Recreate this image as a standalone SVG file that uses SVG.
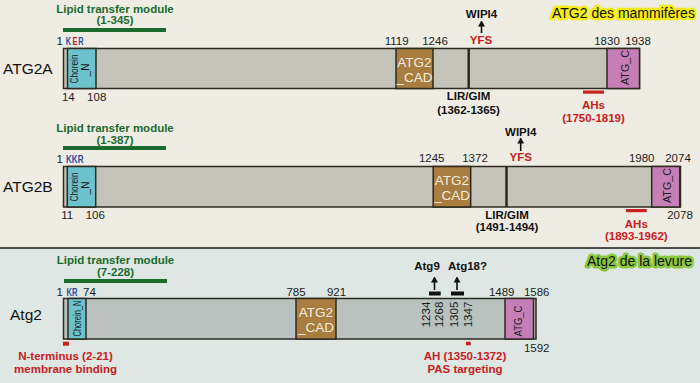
<svg xmlns="http://www.w3.org/2000/svg" width="700" height="383" viewBox="0 0 700 383">
<defs>
<marker id="ah" markerWidth="6" markerHeight="7" refX="5" refY="3.5" orient="auto" markerUnits="userSpaceOnUse" viewBox="0 0 6 7">
<path d="M0,0 L6,3.5 L0,7 Z" fill="#111"/>
</marker>
<style>
text{font-family:"Liberation Sans",Arial,sans-serif;}
.num{font-size:11.5px;fill:#1c1c1c;}
.b{font-weight:bold;}
.mid{text-anchor:middle;}
.green{fill:#1b6b2f;}
.red{fill:#c8201e;}
.blue{fill:#2b4ea2;}
.name{font-size:15.5px;fill:#111;}
.bar{stroke:#2e2a20;stroke-width:1.5;}
.barT{fill:#c3c3ba;}
.barB{fill:#b9c2bf;}
.chor{fill:#6dc3cb;stroke:#2e2a20;stroke-width:1.5;}
.cad{fill:#a97c3f;stroke:#2e2a20;stroke-width:1.5;}
.atgc{fill:#c67fb6;stroke:#2e2a20;stroke-width:1.5;}
.cadt{font-size:13.5px;fill:#f4ecdc;text-anchor:middle;}
.vt{font-size:10px;fill:#1c1c1c;text-anchor:middle;}
.lm{fill:#1b6b2f;}
.arr{stroke:#111;stroke-width:1.6;marker-end:url(#ah);}
.ttl{font-size:14px;fill:#111;stroke-linejoin:round;paint-order:stroke;}
.res{font-size:10.5px;font-weight:bold;}
</style>
</defs>
<rect x="0" y="0" width="700" height="248" fill="#efede3"/>
<rect x="0" y="248" width="700" height="135" fill="#dee7e3"/>
<line x1="0" y1="248" x2="700" y2="248" stroke="#1a1a1a" stroke-width="1.5"/>

<g id="title-mammals">
<text class="ttl" x="552" y="18" stroke="#f4ec1a" stroke-width="5">ATG2 des mammifères</text>
</g>
<g id="title-yeast">
<text class="ttl" x="587" y="266" stroke="#8cc63f" stroke-width="5">Atg2 de la levure</text>
</g>

<!-- ATG2A -->
<g id="ATG2A">
<text class="name" x="3" y="73.5">ATG2A</text>
<text class="b green mid" x="115" y="12.5" font-size="11.5">Lipid transfer module</text>
<text class="b green mid" x="115" y="23.5" font-size="11.5">(1-345)</text>
<rect class="lm" x="63" y="28" width="103" height="4"/>
<rect class="bar barT" x="63.5" y="48.5" width="576" height="40"/>
<rect class="chor" x="67.5" y="48.5" width="28.5" height="40"/>
<text class="vt" transform="translate(78.3,69) rotate(-90)" textLength="29" lengthAdjust="spacingAndGlyphs">Chorein</text>
<text class="vt" transform="translate(89,70) rotate(-90)">_N</text>
<rect class="cad" x="396" y="48.5" width="37" height="40"/>
<text class="cadt" x="414.5" y="66.5">ATG2</text>
<text class="cadt" x="414.5" y="81.5">_CAD</text>
<line x1="468.7" y1="48.5" x2="468.7" y2="88.5" stroke="#2e2a20" stroke-width="2.5"/>
<rect class="atgc" x="607" y="48.5" width="32.5" height="40"/>
<text class="vt" font-size="11" transform="translate(628.5,67.5) rotate(-90)" textLength="35" lengthAdjust="spacingAndGlyphs">ATG_C</text>
<text class="num" x="63" y="45" text-anchor="end">1</text>
<text class="res blue" x="65.8" y="45" textLength="5.3" lengthAdjust="spacingAndGlyphs">K</text>
<text class="res red" x="72.4" y="45" textLength="4.9" lengthAdjust="spacingAndGlyphs">E</text>
<text class="res blue" x="78.3" y="45" textLength="5.3" lengthAdjust="spacingAndGlyphs">R</text>
<text class="num mid" x="68.3" y="101">14</text>
<text class="num mid" x="96.7" y="101">108</text>
<text class="num mid" x="396.7" y="45">1119</text>
<text class="num mid" x="435" y="45">1246</text>
<text class="num mid" x="607" y="45">1830</text>
<text class="num mid" x="638" y="45">1938</text>
<text class="b red mid" x="481" y="43.5" font-size="11.5">YFS</text>
<text class="b mid" x="481.5" y="18.3" font-size="11.5" fill="#111">WIPI4</text>
<text class="b mid" x="468.5" y="100" font-size="11.5" fill="#111">LIR/GIM</text>
<text class="b mid" x="468.5" y="113.5" font-size="11.5" fill="#111">(1362-1365)</text>
<rect x="583" y="90.5" width="21" height="3.2" fill="#c8201e"/>
<text class="b red mid" x="593.5" y="109" font-size="11.5">AHs</text>
<text class="b red mid" x="593.5" y="121.5" font-size="11.5">(1750-1819)</text>
</g>

<!-- ATG2B -->
<g id="ATG2B">
<text class="name" x="3" y="191.5">ATG2B</text>
<text class="b green mid" x="115" y="131.5" font-size="11.5">Lipid transfer module</text>
<text class="b green mid" x="115" y="143.5" font-size="11.5">(1-387)</text>
<rect class="lm" x="63" y="146" width="103" height="4"/>
<rect class="bar barT" x="63.5" y="166.5" width="617" height="40.5"/>
<rect class="chor" x="67.3" y="166.5" width="28.4" height="40.5"/>
<text class="vt" transform="translate(77.5,187) rotate(-90)" textLength="29" lengthAdjust="spacingAndGlyphs">Chorein</text>
<text class="vt" transform="translate(88.5,188) rotate(-90)">_N</text>
<rect class="cad" x="433.2" y="166.5" width="37.5" height="40.5"/>
<text class="cadt" x="452" y="185">ATG2</text>
<text class="cadt" x="452" y="200">_CAD</text>
<line x1="506.5" y1="166.5" x2="506.5" y2="207" stroke="#2e2a20" stroke-width="2.5"/>
<rect class="atgc" x="651.7" y="166.5" width="28" height="40.5"/>
<text class="vt" font-size="11" transform="translate(670.5,185.5) rotate(-90)" textLength="35" lengthAdjust="spacingAndGlyphs">ATG_C</text>
<text class="num" x="63" y="162.5" text-anchor="end">1</text>
<text class="res blue" x="66" y="162.5" textLength="17.5" lengthAdjust="spacingAndGlyphs">KKR</text>
<text class="num mid" x="67.3" y="218.5">11</text>
<text class="num mid" x="95.3" y="218.5">106</text>
<text class="num mid" x="431.7" y="162">1245</text>
<text class="num mid" x="475" y="162">1372</text>
<text class="num mid" x="641.7" y="162">1980</text>
<text class="num mid" x="678" y="162">2074</text>
<text class="num mid" x="680" y="219">2078</text>
<text class="b red mid" x="520.7" y="160.5" font-size="11.5">YFS</text>
<text class="b mid" x="520.7" y="135.7" font-size="11.5" fill="#111">WIPI4</text>
<text class="b mid" x="507" y="219" font-size="11.5" fill="#111">LIR/GIM</text>
<text class="b mid" x="507" y="231" font-size="11.5" fill="#111">(1491-1494)</text>
<rect x="626" y="209" width="20.7" height="3.2" fill="#c8201e"/>
<text class="b red mid" x="636.3" y="227.5" font-size="11.5">AHs</text>
<text class="b red mid" x="636.3" y="239.5" font-size="11.5">(1893-1962)</text>
</g>

<!-- Atg2 yeast -->
<g id="Atg2">
<text class="name" x="10" y="320">Atg2</text>
<text class="b green mid" x="115.5" y="263.5" font-size="11.5">Lipid transfer module</text>
<text class="b green mid" x="115.5" y="275.5" font-size="11.5">(7-228)</text>
<rect class="lm" x="64" y="279" width="103" height="4"/>
<rect class="bar barB" x="63.5" y="298.5" width="472.5" height="40.5"/>
<rect class="chor" x="68" y="298.5" width="18" height="40.5"/>
<text class="vt" font-size="9.5" transform="translate(80.7,318.5) rotate(-90)" textLength="36" lengthAdjust="spacingAndGlyphs">Chorein_N</text>
<rect class="cad" x="296" y="298.5" width="40" height="40.5"/>
<text class="cadt" x="316" y="316.5">ATG2</text>
<text class="cadt" x="316" y="331.5">_CAD</text>
<rect class="atgc" x="505" y="298.5" width="28.5" height="40.5"/>
<text class="vt" font-size="11" transform="translate(522,321) rotate(-90)" textLength="31" lengthAdjust="spacingAndGlyphs">ATG_C</text>
<text class="num" x="63" y="295.5" text-anchor="end">1</text>
<text class="res blue" x="66.5" y="295.5" textLength="11" lengthAdjust="spacingAndGlyphs">KR</text>
<text class="num" x="83" y="295.5">74</text>
<text class="num mid" x="296" y="295.5">785</text>
<text class="num mid" x="336.5" y="295.5">921</text>
<text class="num mid" x="501.7" y="295.5">1489</text>
<text class="num mid" x="536.7" y="295.5">1586</text>
<text class="num mid" x="536.7" y="351.5">1592</text>
<text class="num mid" transform="translate(429.5,314.5) rotate(-90)">1234</text>
<text class="num mid" transform="translate(442.5,314.5) rotate(-90)">1268</text>
<text class="num mid" transform="translate(457.5,314.5) rotate(-90)">1305</text>
<text class="num mid" transform="translate(471.5,314.5) rotate(-90)">1347</text>
<rect x="429" y="291.5" width="11.7" height="4" fill="#111"/>
<rect x="451" y="291.5" width="13" height="4" fill="#111"/>
<text class="b mid" x="427" y="269.5" font-size="11.5" fill="#111">Atg9</text>
<text class="b mid" x="467.5" y="269.5" font-size="11.5" fill="#111">Atg18?</text>
<rect x="63" y="341.7" width="6" height="4" fill="#c8201e"/>
<text class="b red mid" x="65.5" y="360" font-size="11.5">N-terminus (2-21)</text>
<text class="b red mid" x="65.5" y="372.5" font-size="11.5">membrane binding</text>
<rect x="466" y="341.7" width="4.7" height="3.6" fill="#c8201e"/>
<text class="b red mid" x="465" y="360" font-size="11.5">AH (1350-1372)</text>
<text class="b red mid" x="465" y="373" font-size="11.5">PAS targeting</text>
</g>

<g id="connectors">
<line class="arr" x1="481.5" y1="33" x2="481.5" y2="21.5"/>
<line class="arr" x1="520.7" y1="151" x2="520.7" y2="138.5"/>
<line class="arr" x1="434.5" y1="290" x2="434.5" y2="277.5"/>
<line class="arr" x1="457" y1="290" x2="457" y2="277.5"/>
</g>
</svg>
